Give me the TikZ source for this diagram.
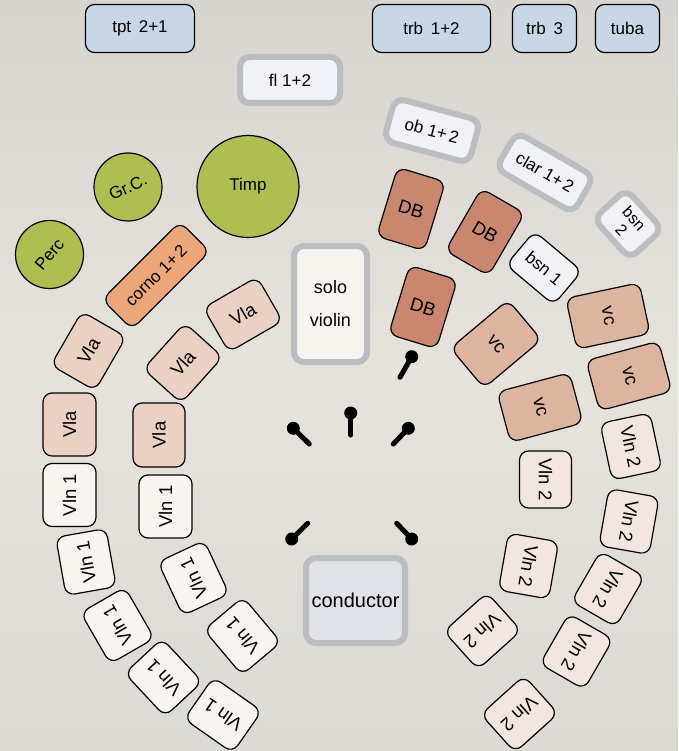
\documentclass[tikz,border=0pt]{standalone}
\usepackage{fontspec}
\setmainfont{Liberation Sans}
\definecolor{brassc}{HTML}{C9D6E6}
\definecolor{windc}{HTML}{F0F2F8}
\definecolor{graybd}{HTML}{BCBDC0}
\definecolor{dbc}{HTML}{C8876E}
\definecolor{vcc}{HTML}{DDB49F}
\definecolor{vlac}{HTML}{EBD0C4}
\definecolor{vlnic}{HTML}{F8F4EF}
\definecolor{vlniic}{HTML}{F3E6E0}
\definecolor{cornoc}{HTML}{EBA77A}
\definecolor{percc}{HTML}{AFBE50}
\definecolor{condc}{HTML}{E1E2E7}
\definecolor{solofill}{HTML}{F8F4F0}
\definecolor{bgtop}{HTML}{D8D5D1}
\definecolor{bgmid}{HTML}{E6E2DC}
\definecolor{bgbot}{HTML}{DCDAD5}
\tikzset{
  base/.style={rounded corners=9pt, inner sep=1pt, align=center, font=\fontsize{17}{19}\selectfont},
  blk/.style={base, draw=black, line width=1.2pt},
  gry/.style={base, draw=graybd, line width=6pt, rounded corners=10pt, fill=windc},
  brass/.style={blk, fill=brassc, minimum height=48pt},
  strs/.style={blk, font=\fontsize{18.5}{20}\selectfont},
  vla/.style={strs, fill=vlac, minimum width=62pt, minimum height=51pt},
  vlni/.style={strs, fill=vlnic, minimum width=59pt, minimum height=51pt},
  vlnii/.style={strs, fill=vlniic, minimum width=58pt, minimum height=51pt},
  vcbox/.style={strs, fill=vcc, minimum width=52pt, minimum height=75pt},
  dbbox/.style={strs, fill=dbc, minimum width=50pt, minimum height=72pt},
  percbox/.style={circle, draw=black, line width=1.2pt, fill=percc, inner sep=0pt, font=\fontsize{17}{19}\selectfont},
  standline/.style={line width=5pt, line cap=round}
}
\begin{document}
\begin{tikzpicture}[x=1pt,y=-1pt]
\useasboundingbox (0,0) rectangle (678,751);
\shade[top color=bgtop, bottom color=bgbot, middle color=bgmid] (0,0) rectangle (678,751);

% brass
\node[brass, minimum width=109pt] (tpt) at (140,28.5) {tpt\hspace{0.45em}2+1};
\node[brass, minimum width=118pt] (trb12) at (431.5,28.5) {trb\hspace{0.45em}1+2};
\node[brass, minimum width=64pt] (trb3) at (544.5,28.5) {trb\hspace{0.45em}3};
\node[brass, minimum width=64pt] (tuba) at (627.5,28.5) {tuba};

% woodwinds
\node[gry, minimum width=100pt, minimum height=46pt] (fl) at (290,80) {fl 1+2};
\node[gry, minimum width=88pt, minimum height=44pt, rotate=-15] (ob) at (432,130.5) {ob 1+\,2};
\node[gry, minimum width=89pt, minimum height=42pt, rotate=-30] (clar) at (545,172.5) {clar 1+\,2};
\node[gry, minimum width=54pt, minimum height=44pt, rotate=-48, font=\fontsize{16}{17}\selectfont] (bsnii) at (628,224) {bsn\\2};
\node[blk, fill=windc, minimum width=62pt, minimum height=44pt, rotate=-40] (bsni) at (544,268) {bsn\hspace{0.3em}1};

% percussion
\node[percbox, minimum size=68pt] (grc) at (128,187) {\rotatebox{25}{Gr.C.}};
\node[percbox, minimum size=102pt] (timp) at (248,186.5) {Timp};
\node[percbox, minimum size=68pt] (perc) at (49.5,254.5) {\rotatebox{50}{Perc}};

% horns
\node[blk, fill=cornoc, minimum width=110pt, minimum height=42pt, rotate=45] (corno) at (156,275.5) {corno 1+\,2};

% soloist and conductor
\node[gry, fill=solofill, minimum width=73pt, minimum height=116pt, font=\fontsize{18}{33}\selectfont] (solo) at (330.5,304) {solo\\violin};
\node[gry, fill=condc, minimum width=99pt, minimum height=85pt, font=\fontsize{20}{22}\selectfont] (cond) at (355.5,600.5) {conductor};

% double basses
\node[dbbox, rotate=-17] (db1) at (411,209) {DB};
\node[dbbox, rotate=-30] (db2) at (485,232) {DB};
\node[dbbox, rotate=-17] (db3) at (423,307) {DB};

% cellos
\node[vcbox, rotate=-50] (vc1) at (496,344) {vc};
\node[vcbox, rotate=-78] (vc2) at (608,316) {vc};
\node[vcbox, rotate=-75] (vc3) at (629,376) {vc};
\node[vcbox, rotate=-75] (vc4) at (540,407.5) {vc};

% violas
\node[vla, rotate=60] (vla1) at (88.5,351) {Vla};
\node[vla, rotate=90, minimum width=63pt, minimum height=53pt] (vla2) at (69.5,424.5) {Vla};
\node[vla, rotate=30] (vla3) at (243,314.5) {Vla};
\node[vla, rotate=48] (vla4) at (183,363) {Vla};
\node[vla, rotate=90, minimum width=64pt, minimum height=52pt] (vla5) at (159,435) {Vla};

% violins 1
\node[vlni, rotate=90, minimum width=63pt, minimum height=53pt] (va1) at (69.5,495) {Vln 1};
\node[vlni, rotate=100] (va2) at (86,562) {Vln 1};
\node[vlni, rotate=120] (va3) at (117.5,625.5) {Vln 1};
\node[vlni, rotate=133] (va4) at (163.5,677.5) {Vln 1};
\node[vlni, rotate=145] (va5) at (223,715) {Vln 1};
\node[vlni, rotate=90, minimum width=63pt, minimum height=53pt] (vb1) at (165.5,506.5) {Vln 1};
\node[vlni, rotate=115] (vb2) at (193.5,578) {Vln 1};
\node[vlni, rotate=130] (vb3) at (242.5,636) {Vln 1};

% violins 2
\node[vlnii, rotate=-90, minimum width=57pt, minimum height=52pt] (wa1) at (545.5,479.5) {Vln 2};
\node[vlnii, rotate=-100] (wa2) at (528.5,566) {Vln 2};
\node[vlnii, rotate=-138] (wa3) at (482.5,631) {Vln 2};
\node[vlnii, rotate=-78] (wb1) at (631,446.5) {Vln 2};
\node[vlnii, rotate=-100] (wb2) at (629,521.5) {Vln 2};
\node[vlnii, rotate=-120] (wb3) at (608,589) {Vln 2};
\node[vlnii, rotate=-120] (wb4) at (576.5,651.5) {Vln 2};
\node[vlnii, rotate=-138] (wb5) at (519.5,714) {Vln 2};

% music stands
\coordinate (s1h) at (350.7,413); \coordinate (s1e) at (350.7,435);
\coordinate (s2h) at (293.3,428.3); \coordinate (s2e) at (309.3,444);
\coordinate (s3h) at (408.3,428.3); \coordinate (s3e) at (393.3,444);
\coordinate (s4h) at (291.7,539); \coordinate (s4e) at (307.7,523.3);
\coordinate (s5h) at (411.7,539); \coordinate (s5e) at (396.7,523.3);
\coordinate (s6h) at (411.7,356.7); \coordinate (s6e) at (400,377.3);
\foreach \s in {1,...,6}{
  \draw[standline] (s\s h) -- (s\s e);
  \fill (s\s h) circle (6.5pt);
}
\end{tikzpicture}
\end{document}
